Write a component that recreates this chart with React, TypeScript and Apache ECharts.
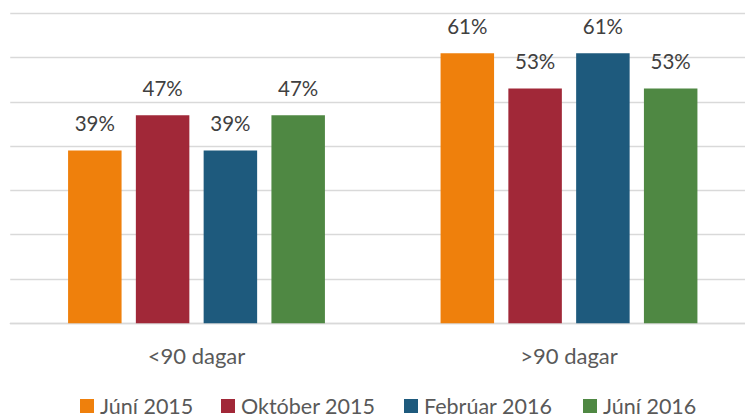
import React, { useEffect, useRef } from "react";
import * as echarts from "echarts";

const categories = ["<90 dagar", ">90 dagar"];
const seriesNames = ["Júní 2015", "Október 2015", "Febrúar 2016", "Júní 2016"];
const juni2015 = [39, 61];
const oktober2015 = [47, 53];
const februar2016 = [39, 61];
const juni2016 = [47, 53];
const colors = ["#EF800C", "#A12838", "#1E5A7D", "#4F8843"];
const legendLefts = [80, 221, 404, 583];

const FONT = "Lato";

export default function App() {
  const ref = useRef<HTMLDivElement>(null);
  useEffect(() => {
    if (!ref.current) return;
    const chart = echarts.init(ref.current, undefined, { renderer: "svg" });
    const values = [juni2015, oktober2015, februar2016, juni2016];
    chart.setOption({
      animation: false,
      backgroundColor: "#ffffff",
      textStyle: { fontFamily: FONT },
      grid: { left: 10.25, right: 9.75, top: 13.3, height: 310, containLabel: false },
      xAxis: {
        type: "category",
        data: categories,
        axisTick: { show: false },
        axisLine: { show: true, lineStyle: { color: "#d9d9d9", width: 1.3 } },
        axisLabel: { color: "#595959", fontSize: 22, fontFamily: FONT, margin: 21 },
      },
      yAxis: {
        type: "value",
        min: 0,
        max: 70,
        interval: 10,
        axisLabel: { show: false },
        axisLine: { show: false },
        axisTick: { show: false },
        splitLine: { lineStyle: { color: "#d9d9d9", width: 1.3 } },
      },
      legend: seriesNames.map((name, i) => ({
        top: 395,
        left: legendLefts[i],
        padding: 0,
        itemWidth: 14,
        itemHeight: 14,
        icon: "rect",
        textStyle: { color: "#595959", fontSize: 21.5, fontFamily: FONT, padding: [0, 0, 0, 1] },
        data: [name],
      })),
      series: seriesNames.map((name, i) => ({
        name,
        type: "bar",
        data: values[i],
        barWidth: 53.5,
        barGap: "26.7%",
        itemStyle: { color: colors[i] },
        label: {
          show: true,
          position: "top",
          distance: 17,
          formatter: "{c}%",
          color: "#404040",
          fontSize: 20.5,
          fontFamily: FONT,
        },
      })),
    });
    return () => chart.dispose();
  }, []);
  return (
    <div
      style={{
        position: "absolute",
        left: 0,
        top: 0,
        width: 745,
        height: 418,
        overflow: "hidden",
        background: "#ffffff",
      }}
    >
      <div ref={ref} style={{ width: 765, height: 418 }} />
    </div>
  );
}
